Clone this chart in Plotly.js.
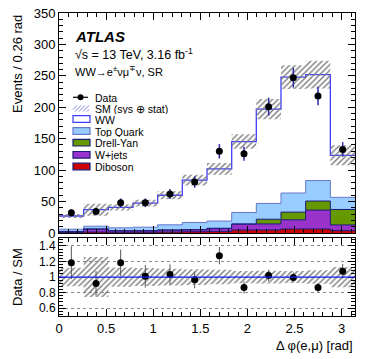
<!DOCTYPE html>
<html>
<head>
<meta charset="utf-8">
<script src="https://cdn.plot.ly/plotly-3.0.1.min.js"></script>
<style>
  body { margin: 0; background: #fff; }
  #plot { width: 374px; height: 359px; }
</style>
</head>
<body>
<div id="plot"></div>
<script>
// bin edges of delta phi(e,mu), 12 bins of 0.26 rad
const binEdges = [0, 0.262, 0.524, 0.785, 1.047, 1.309, 1.571, 1.833, 2.094, 2.356, 2.618, 2.880, 3.142];

const dataEvents = [32, 34, 48, 48, 62, 81, 130, 126, 201, 247, 218, 133];
const dataErr = [5.7, 5.8, 6.9, 6.9, 7.9, 9.0, 11.4, 11.2, 14.2, 15.7, 14.8, 11.5];

const wwEvents = [21, 26.2, 32.4, 38.3, 47, 67.3, 83, 112.9, 150, 184.4, 168.6, 66.9];
const topEvents = [3.5, 4.3, 4.7, 5.6, 8.2, 11.4, 11.5, 18.2, 25.1, 30.4, 32.6, 19.3];
const dyEvents = [0.3, 0.5, 0.3, 0.3, 0.3, 0.3, 0.5, 0.5, 7.5, 12.3, 14.4, 24.6];
const wjetsEvents = [1.2, 4.5, 2.0, 2.0, 3.0, 3.0, 4.5, 9.1, 9.6, 14.5, 30.0, 9.1];
const dibosonEvents = [1.0, 1.5, 1.2, 1.3, 1.5, 2.0, 2.5, 4.8, 4.8, 6.4, 6.4, 3.7];

// SM uncertainty (sys + stat), absolute half width
const smErr = [3.2, 9.5, 5, 5.5, 6.5, 8.5, 9.5, 11.5, 16, 19, 22, 16];

const centers = binEdges.slice(0, -1).map((e, i) => (e + binEdges[i + 1]) / 2);

// stacked sums, bottom up: diboson, W+jets, Drell-Yan, top, WW
const add = (a, b) => a.map((v, i) => v + b[i]);
const cumDiboson = dibosonEvents;
const cumWjets = add(cumDiboson, wjetsEvents);
const cumDY = add(cumWjets, dyEvents);
const cumTop = add(cumDY, topEvents);
const smTotal = add(cumTop, wwEvents);

const step = arr => [...arr, arr[arr.length - 1]];

const bandLo = smTotal.map((v, i) => v - smErr[i]);
const bandHi = smTotal.map((v, i) => v + smErr[i]);
const ratio = dataEvents.map((v, i) => v / smTotal[i]);
const ratioErr = dataErr.map((v, i) => v / smTotal[i]);
const ratioLo = smErr.map((v, i) => 1 - v / smTotal[i]);
const ratioHi = smErr.map((v, i) => 1 + v / smTotal[i]);

const navy = '#1c1c7a';
const hatch = { shape: '/', fgcolor: '#7a7a7a', size: 4, solidity: 0.35 };

function stackTrace(y, fill, line, width) {
  return {
    x: binEdges, y: step(y), xaxis: 'x', yaxis: 'y',
    type: 'scatter', mode: 'lines', fill: 'tozeroy', fillcolor: fill,
    line: { shape: 'hv', color: line, width: width || 1 },
    hoverinfo: 'skip', showlegend: false,
  };
}

const traces = [
  stackTrace(smTotal, '#ffffff', '#3d3dff', 1.3),
  stackTrace(cumTop, '#99ccff', '#6677cc'),
  stackTrace(cumDY, '#669900', navy),
  stackTrace(cumWjets, '#9933cc', navy),
  stackTrace(cumDiboson, '#cc0000', navy),
  {
    x: binEdges, y: step(bandLo), xaxis: 'x', yaxis: 'y',
    type: 'scatter', mode: 'lines', line: { shape: 'hv', width: 0 }, showlegend: false,
  },
  {
    x: binEdges, y: step(bandHi), xaxis: 'x', yaxis: 'y',
    type: 'scatter', mode: 'lines', line: { shape: 'hv', width: 0 },
    fill: 'tonexty', fillcolor: 'rgba(0,0,0,0)', fillpattern: hatch, showlegend: false,
  },
  {
    x: centers, y: dataEvents, xaxis: 'x', yaxis: 'y',
    type: 'scatter', mode: 'markers',
    marker: { color: 'black', size: 7 },
    error_y: { type: 'data', array: dataErr, color: '#2a2aa8', thickness: 1.5, width: 0 },
    showlegend: false,
  },
  // ratio panel
  {
    x: binEdges, y: step(ratioLo), xaxis: 'x2', yaxis: 'y2',
    type: 'scatter', mode: 'lines', line: { shape: 'hv', width: 0 }, showlegend: false,
  },
  {
    x: binEdges, y: step(ratioHi), xaxis: 'x2', yaxis: 'y2',
    type: 'scatter', mode: 'lines', line: { shape: 'hv', width: 0 },
    fill: 'tonexty', fillcolor: 'rgba(0,0,0,0)', fillpattern: hatch, showlegend: false,
  },
  {
    x: centers, y: ratio, xaxis: 'x2', yaxis: 'y2',
    type: 'scatter', mode: 'markers',
    marker: { color: 'black', size: 7 },
    error_y: { type: 'data', array: ratioErr, color: '#555555', thickness: 1, width: 0 },
    showlegend: false,
  },
];

// pixel -> paper helpers (plot area: x 59..355, y 13..316)
const px = v => (v - 59) / 296;
const py = v => (316 - v) / 303;

const font = 'Liberation Sans, Arial, sans-serif';

const legendRows = [
  { name: 'Data', y: 97.3 },
  { name: 'SM (sys \u2295 stat)', y: 108.5 },
  { name: 'WW', y: 119 },
  { name: 'Top Quark', y: 131 },
  { name: 'Drell-Yan', y: 142.7 },
  { name: 'W+jets', y: 154.8 },
  { name: 'Diboson', y: 166.5 },
];
const boxStyle = [
  null, null,
  { fill: '#ffffff', line: '#3d3dff' },
  { fill: '#99ccff', line: '#6677cc' },
  { fill: '#669900', line: navy },
  { fill: '#9933cc', line: navy },
  { fill: '#cc0000', line: navy },
];

const shapes = [
  { type: 'line', xref: 'x2', yref: 'y2', x0: 0, x1: Math.PI, y0: 1, y1: 1,
    line: { color: '#1f1fff', width: 1.3 } },
  // Data legend symbol
  { type: 'line', xref: 'paper', yref: 'paper', x0: px(73), x1: px(88), y0: py(97.3), y1: py(97.3),
    line: { color: 'black', width: 1.2 } },
  { type: 'circle', xref: 'paper', yref: 'paper', x0: px(77.5), x1: px(83.5), y0: py(94.3), y1: py(100.3),
    fillcolor: 'black', line: { color: 'black', width: 0 } },
];
// SM hatched legend box
for (let k = 0; k < 5; k++) {
  const x0 = 71 + k * 4;
  shapes.push({ type: 'line', xref: 'paper', yref: 'paper',
    x0: px(Math.max(x0, 73)), y0: py(111.5 - (Math.max(x0, 73) - x0)),
    x1: px(Math.min(x0 + 6, 89)), y1: py(105.5 + (x0 + 6 - Math.min(x0 + 6, 89))),
    line: { color: '#8080e0', width: 1 } });
}
legendRows.forEach((r, i) => {
  const s = boxStyle[i];
  if (!s) return;
  shapes.push({ type: 'rect', xref: 'paper', yref: 'paper',
    x0: px(73), x1: px(90), y0: py(r.y - 3.3), y1: py(r.y + 3.3),
    fillcolor: s.fill, line: { color: s.line, width: 1.2 } });
});

const annotations = [
  { text: '<b><i>ATLAS</i></b>', x: px(73), y: py(36), font: { size: 15 } },
  { text: '\u221As = 13 TeV, 3.16 fb<sup>-1</sup>', x: px(73), y: py(53.5), font: { size: 12.5 } },
  { text: 'WW\u2192e<sup>\u00B1</sup>\u03BD\u03BC<sup>\u2213</sup>\u03BD, SR', x: px(73), y: py(71), font: { size: 11 } },
  ...legendRows.map(r => ({ text: r.name, x: px(94), y: py(r.y), font: { size: 10.5 },
    borderpad: 0, height: 11 })),
  { text: 'Events / 0.26 rad', x: px(17), y: 1, textangle: -90, xanchor: 'center', yanchor: 'top',
    font: { size: 13 } },
  { text: 'Data / SM', x: px(17), y: py(277), textangle: -90, xanchor: 'center', yanchor: 'middle',
    font: { size: 13 } },
  { text: '\u0394 \u03C6(e,\u03BC) [rad]', x: 1, y: py(345), xanchor: 'right', yanchor: 'middle',
    font: { size: 13 } },
].map(a => Object.assign({ xref: 'paper', yref: 'paper', showarrow: false, xanchor: 'left',
  yanchor: 'middle' }, a, { font: Object.assign({ family: font, color: 'black' }, a.font) }));

const frame = {
  showline: true, mirror: 'ticks', linecolor: 'black', linewidth: 1,
  ticks: 'inside', ticklen: 7, tickcolor: 'black', tickwidth: 1,
  showgrid: false, zeroline: false, fixedrange: true,
  tickfont: { family: font, size: 13, color: 'black' },
};

const layout = {
  width: 374, height: 359,
  margin: { l: 59, r: 19, t: 13, b: 43 },
  paper_bgcolor: 'white', plot_bgcolor: 'white',
  showlegend: false,
  font: { family: font, color: 'black' },
  xaxis: Object.assign({}, frame, {
    anchor: 'y', domain: [0, 1], range: [0, Math.PI], showticklabels: false,
    tick0: 0, dtick: 0.5, minor: { dtick: 0.1, ticklen: 4, ticks: 'inside', tickcolor: 'black' },
  }),
  yaxis: Object.assign({}, frame, {
    anchor: 'x', domain: [0.274, 1], range: [0, 350],
    tick0: 0, dtick: 50, minor: { dtick: 10, ticklen: 4, ticks: 'inside', tickcolor: 'black' },
  }),
  xaxis2: Object.assign({}, frame, {
    anchor: 'y2', domain: [0, 1], range: [0, Math.PI],
    tick0: 0, dtick: 0.5, minor: { dtick: 0.1, ticklen: 4, ticks: 'inside', tickcolor: 'black' },
  }),
  yaxis2: Object.assign({}, frame, {
    anchor: 'x2', domain: [0, 0.257], range: [0.5, 1.5],
    tick0: 0, dtick: 0.2, minor: { dtick: 0.04, ticklen: 4, ticks: 'inside', tickcolor: 'black' },
    showgrid: true, griddash: 'dot', gridcolor: '#8a8a8a', gridwidth: 1,
    tickfont: { family: font, size: 12, color: 'black' },
  }),
  shapes: shapes,
  annotations: annotations,
};

Plotly.newPlot('plot', traces, layout, { staticPlot: true, displayModeBar: false });
</script>
</body>
</html>
